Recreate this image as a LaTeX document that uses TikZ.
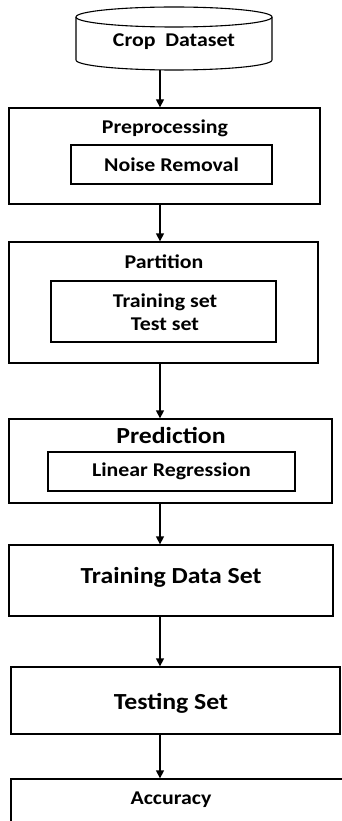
\documentclass[tikz,border=0pt]{standalone}
\usepackage{fontspec}
\setmainfont{Carlito}[FakeStretch=1.12]
\usetikzlibrary{arrows.meta}

\tikzset{
	outerbox/.style={draw, line width=1.3pt, inner sep=0pt},
	innerbox/.style={draw, line width=1.2pt, inner sep=0pt},
	lbl/.style={font=\fontsize{19.5}{23}\selectfont\bfseries, align=center, inner sep=0pt},
	biglbl/.style={font=\fontsize{23}{27}\selectfont\bfseries, align=center, inner sep=0pt},
	arr/.style={line width=1.3pt, -{Triangle[width=8pt,length=8pt]}}
}

\begin{document}
\begin{tikzpicture}[x=1pt, y=-1pt]
		\useasboundingbox (0,0) rectangle (341,821);
		
		%crop dataset
		\draw[line width=1.1pt] (76,17) -- (76,60) arc[start angle=180, end angle=0, x radius=98, y radius=10] -- (272,17);
		\draw[line width=1.1pt] (174,17) ellipse[x radius=98, y radius=10];
		\node[lbl] (crop) at (174,42) {Crop~~Dataset};
		\coordinate (cropbot) at (160,70);
		
		%preprocessing
		\node[outerbox, minimum width=311pt, minimum height=96pt] (prep) at (164.5,156) {};
		\node[lbl] (preptitle) at (165,128) {Preprocessing};
		\node[innerbox, minimum width=201pt, minimum height=39pt] (noise) at (171.5,164.5) {};
		\node[lbl] at (noise) {Noise Removal};
		
		%partition
		\node[outerbox, minimum width=309pt, minimum height=121pt] (part) at (163.5,302.5) {};
		\node[lbl] (parttitle) at (164,262) {Partition};
		\node[innerbox, minimum width=225pt, minimum height=61pt] (sets) at (163.5,311.5) {};
		\node[lbl] at (165,312) {Training set\\Test set};
		
		%prediction
		\node[outerbox, minimum width=323pt, minimum height=84pt] (pred) at (170.5,461) {};
		\node[biglbl] (predtitle) at (171,435) {Prediction};
		\node[innerbox, minimum width=247pt, minimum height=39pt] (linreg) at (171.5,471.5) {};
		\node[lbl] at (linreg) {Linear Regression};
		
		%training and testing
		\node[outerbox, minimum width=324pt, minimum height=71pt] (train) at (171,580.5) {};
		\node[biglbl] at (171,577) {Training Data Set};
		\node[outerbox, minimum width=329pt, minimum height=67pt] (test) at (175.5,700.5) {};
		\node[biglbl] at (171,703) {Testing Set};
		
		%accuracy (runs off the page)
		\node[outerbox, minimum width=350pt, minimum height=62pt] (acc) at (186,810) {};
		\node[lbl] at (171,800) {Accuracy};
		
		%arrows
		\draw[arr] (cropbot) -- (cropbot |- prep.north);
		\draw[arr] (cropbot |- prep.south) -- (cropbot |- part.north);
		\draw[arr] (cropbot |- part.south) -- (cropbot |- pred.north);
		\draw[arr] (cropbot |- pred.south) -- (cropbot |- train.north);
		\draw[arr] (cropbot |- train.south) -- (cropbot |- test.north);
		\draw[arr] (cropbot |- test.south) -- (cropbot |- acc.north);
\end{tikzpicture}
\end{document}
